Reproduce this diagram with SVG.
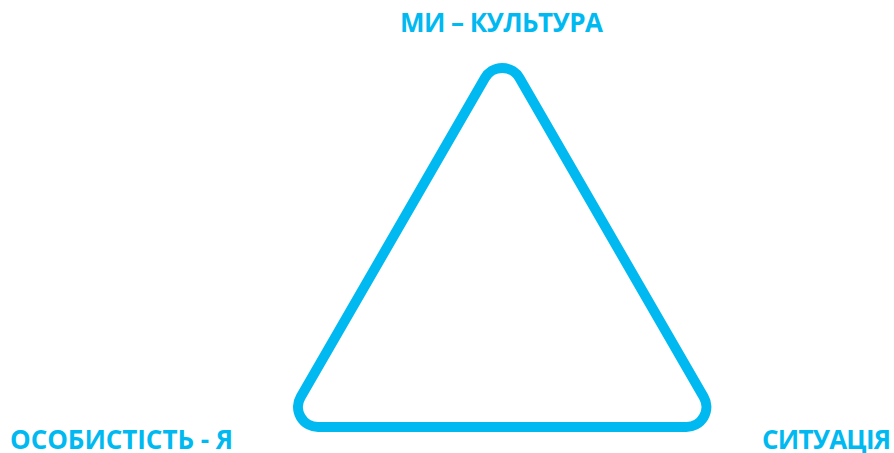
<svg xmlns="http://www.w3.org/2000/svg" width="894" height="453" viewBox="0 0 894 453">
<style>
.lbl{font-family:"Open Sans","Liberation Sans",sans-serif;font-weight:700;font-size:26px;fill:#00B9F1}
.tri{fill:none;stroke:#00B9F1;stroke-width:10;stroke-linejoin:round}
</style>
<rect width="894" height="453" fill="#ffffff"/>
<g id="connectors">
<path class="tri" d="M484.9 78 A20 20 0 0 1 519.5 78 L703.7 397 A20 20 0 0 1 686.4 427 L318 427 A20 20 0 0 1 300.7 397 Z"/>
</g>
<g id="node-top"><text class="lbl" x="400" y="32" textLength="203" lengthAdjust="spacing">МИ – КУЛЬТУРА</text></g>
<g id="node-left"><text class="lbl" x="10" y="449" textLength="223" lengthAdjust="spacing">ОСОБИСТІСТЬ - Я</text></g>
<g id="node-right"><text class="lbl" x="762" y="449" textLength="129" lengthAdjust="spacing">СИТУАЦІЯ</text></g>
</svg>
